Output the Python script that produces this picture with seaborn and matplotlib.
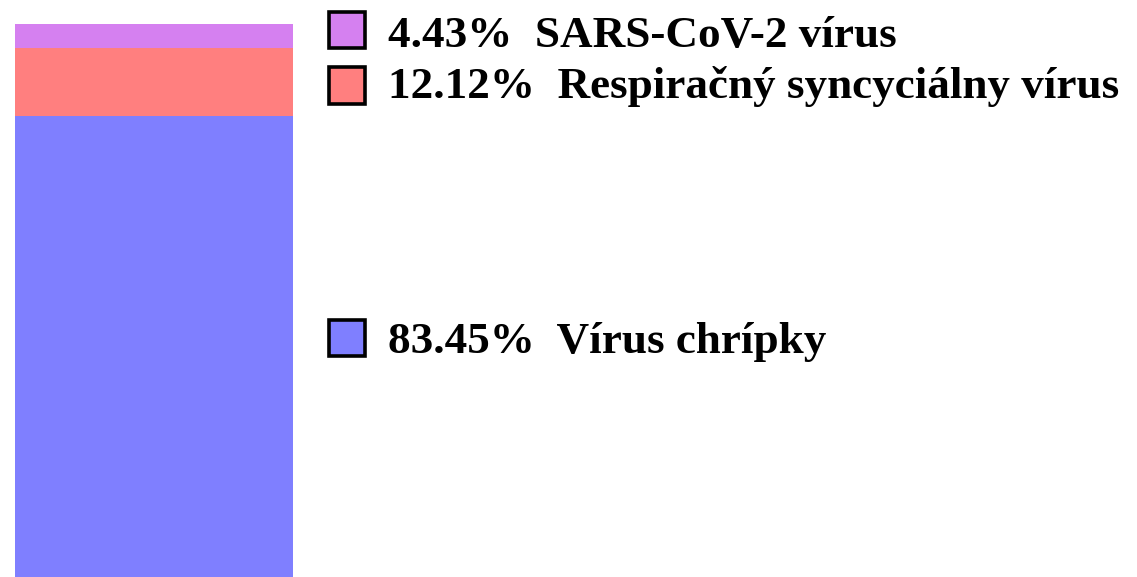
import pandas as pd
import numpy as np
import matplotlib
matplotlib.use('Agg')
import matplotlib.pyplot as plt
import seaborn as sns
from matplotlib.patches import Rectangle

# Data
viruses = ['Vírus chrípky', 'Respiračný syncyciálny vírus', 'SARS-CoV-2 vírus']
shares = [83.45, 12.12, 4.43]
colors = ['#7F7FFF', '#FF7F7F', '#D580F0']

sns.set_style("white")
plt.rcParams['font.family'] = ['Liberation Serif', 'DejaVu Serif']

W, H = 1137, 577
fig = plt.figure(figsize=(W / 100, H / 100), dpi=100)
ax = fig.add_axes([15 / W, 0, (293 - 15) / W, 1 - 24 / H])

# stacked bar: draw cumulative totals from the top segment down
df = pd.DataFrame({'grp': ['all'] * len(viruses), 'virus': viruses, 'pct': shares})
df['cum'] = df['pct'].cumsum()
for i in reversed(range(len(df))):
    sns.barplot(data=df.iloc[[i]], x='grp', y='cum', color=colors[i],
                saturation=1, width=1, ax=ax, edgecolor='none')

ax.set_xlim(-0.5, 0.5)
ax.set_ylim(0, df['cum'].iloc[-1])
ax.axis('off')

# legend entries (top to bottom) at the right of the bar
box_y = {2: 30, 1: 85.5, 0: 337.5}  # box centres, px from top
base_y = {2: 47, 1: 98, 0: 353}     # text baselines, px from top
bs = 36
for i, v in enumerate(viruses):
    yc = box_y[i]
    fig.patches.append(Rectangle(((346.5 - bs / 2) / W, 1 - (yc + bs / 2) / H), bs / W, bs / H,
                                 transform=fig.transFigure, facecolor=colors[i],
                                 edgecolor='black', linewidth=2.6))
    fig.text(388 / W, 1 - base_y[i] / H, f"{shares[i]:.2f}%  {v}", fontsize=32.5,
             fontweight='bold', va='baseline', ha='left', color='black')

fig.savefig('out.png', dpi=100)
